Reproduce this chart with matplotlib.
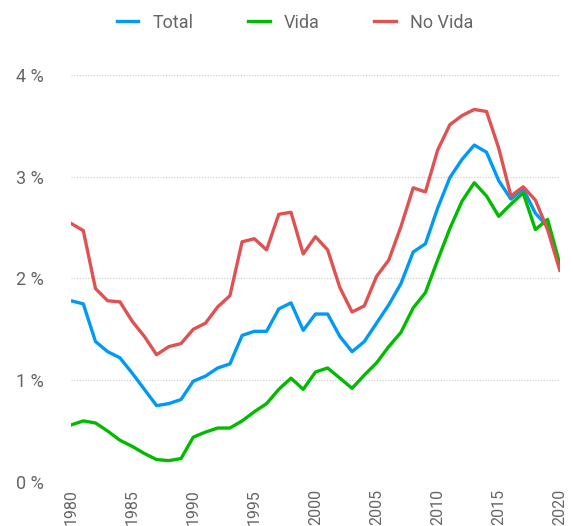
import matplotlib
matplotlib.use('Agg')
import matplotlib.pyplot as plt
from matplotlib.ticker import FuncFormatter

# datos (%)
anios = list(range(1980, 2021))

total = [1.78, 1.75, 1.38, 1.28, 1.22, 1.07, 0.91, 0.75, 0.77, 0.81,
         0.99, 1.04, 1.12, 1.16, 1.44, 1.48, 1.48, 1.70, 1.76, 1.49,
         1.65, 1.65, 1.43, 1.28, 1.38, 1.56, 1.74, 1.95, 2.26, 2.34,
         2.69, 2.99, 3.17, 3.31, 3.24, 2.96, 2.78, 2.88, 2.64, 2.51,
         2.11]

vida = [0.56, 0.60, 0.58, 0.50, 0.41, 0.35, 0.28, 0.22, 0.21, 0.23,
        0.44, 0.49, 0.53, 0.53, 0.60, 0.69, 0.77, 0.91, 1.02, 0.91,
        1.08, 1.12, 1.02, 0.92, 1.05, 1.17, 1.33, 1.47, 1.71, 1.86,
        2.18, 2.49, 2.76, 2.94, 2.81, 2.61, 2.73, 2.84, 2.48, 2.58,
        2.14]

no_vida = [2.54, 2.47, 1.90, 1.78, 1.77, 1.58, 1.43, 1.25, 1.33, 1.36,
           1.50, 1.56, 1.72, 1.83, 2.36, 2.39, 2.28, 2.63, 2.65, 2.24,
           2.41, 2.28, 1.91, 1.67, 1.73, 2.02, 2.18, 2.51, 2.89, 2.85,
           3.26, 3.51, 3.60, 3.66, 3.64, 3.28, 2.81, 2.90, 2.77, 2.48,
           2.08]

series = ['Total', 'Vida', 'No Vida']
colores = ['#0099f5', '#00bb00', '#e05252']
ticks_x = list(range(1980, 2021, 5))
ticks_y = [0, 1, 2, 3, 4]

plt.rcParams['font.family'] = ['Roboto', 'DejaVu Sans']

fig = plt.figure(figsize=(5.73, 5.26), dpi=100)
ax = fig.add_axes([0.124, 0.0837, 0.853, 0.774])

for nombre, valores, color in zip(series, [total, vida, no_vida], colores):
    ax.plot(anios, valores, color=color, linewidth=2.4, label=nombre)

ax.set_xlim(1980, 2020)
ax.set_ylim(0, 4)
ax.set_xticks(ticks_x)
ax.set_yticks(ticks_y)
ax.yaxis.set_major_formatter(FuncFormatter(lambda v, p: f'{v:.0f} %'))
ax.grid(axis='y', color='#c8c8c8', linestyle=(0, (1, 1.5)), linewidth=0.8)
ax.set_axisbelow(True)
for s in ax.spines.values():
    s.set_visible(False)
ax.tick_params(axis='both', length=0, colors='#666666', labelsize=13)
ax.tick_params(axis='x', labelrotation=90, pad=5, labelsize=11.5)
ax.tick_params(axis='y', pad=20)

fig.legend(loc='upper center', bbox_to_anchor=(0.515, 1.005), ncol=3,
           frameon=False, fontsize=13, handlelength=1.2, handletextpad=0.8,
           columnspacing=3.0, labelcolor='#666666')

fig.savefig('out.png', dpi=100)
